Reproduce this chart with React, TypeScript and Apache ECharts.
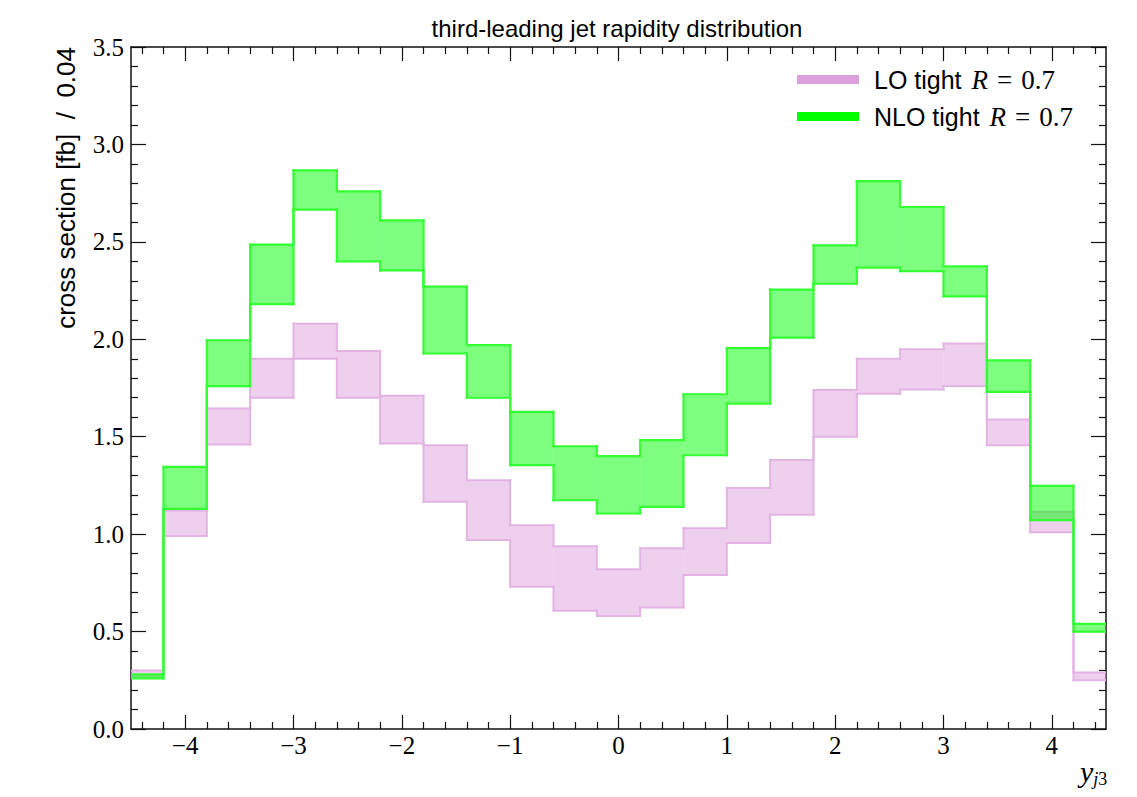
import React, { useEffect, useRef } from "react";
import * as echarts from "echarts";

const binEdges = [-4.6, -4.2, -3.8, -3.4, -3.0, -2.6, -2.2, -1.8, -1.4, -1.0, -0.6, -0.2, 0.2, 0.6, 1.0, 1.4, 1.8, 2.2, 2.6, 3.0, 3.4, 3.8, 4.2, 4.6];

const loLow = [0.27, 0.99, 1.46, 1.70, 1.90, 1.70, 1.465, 1.166, 0.97, 0.73, 0.607, 0.58, 0.624, 0.79, 0.955, 1.10, 1.50, 1.72, 1.742, 1.76, 1.456, 1.01, 0.25];
const loHigh = [0.30, 1.12, 1.645, 1.90, 2.08, 1.94, 1.71, 1.456, 1.277, 1.046, 0.938, 0.82, 0.927, 1.03, 1.237, 1.38, 1.74, 1.90, 1.949, 1.978, 1.588, 1.115, 0.29];
const nloLow = [0.26, 1.13, 1.76, 2.18, 2.665, 2.40, 2.354, 1.927, 1.70, 1.354, 1.174, 1.106, 1.14, 1.405, 1.67, 2.009, 2.285, 2.368, 2.35, 2.22, 1.73, 1.072, 0.50];
const nloHigh = [0.28, 1.345, 1.995, 2.486, 2.867, 2.759, 2.61, 2.27, 1.97, 1.627, 1.451, 1.40, 1.482, 1.718, 1.955, 2.255, 2.482, 2.812, 2.679, 2.374, 1.892, 1.248, 0.54];

const xMajorTicks = [-4, -3, -2, -1, 0, 1, 2, 3, 4];
const xMinorTicks = [-4.4, -4.2, -3.8, -3.6, -3.4, -3.2, -2.8, -2.6, -2.4, -2.2, -1.8, -1.6, -1.4, -1.2, -0.8, -0.6, -0.4, -0.2, 0.2, 0.4, 0.6, 0.8, 1.2, 1.4, 1.6, 1.8, 2.2, 2.4, 2.6, 2.8, 3.2, 3.4, 3.6, 3.8, 4.2, 4.4];

const SERIF = "'Liberation Serif', 'DejaVu Serif', serif";
const SANS = "'Liberation Sans', 'DejaVu Sans', sans-serif";

function makeRender(low: number[], high: number[], fill: string, stroke: string, lw: number) {
  return (params: any, api: any) => {
    const i = params.dataIndex;
    const last = low.length - 1;
    const xl = binEdges[i];
    const xr = binEdges[i + 1];
    const pTL = api.coord([xl, high[i]]);
    const pBR = api.coord([xr, low[i]]);
    const children: any[] = [];
    children.push({
      type: "rect",
      shape: { x: pTL[0], y: pTL[1], width: pBR[0] - pTL[0], height: pBR[1] - pTL[1] },
      style: { fill, stroke: null },
    });
    const line = (x1: number, y1: number, x2: number, y2: number) => ({
      type: "line",
      shape: { x1, y1, x2, y2 },
      style: { stroke, lineWidth: lw, lineCap: "square" },
    });
    children.push(line(pTL[0], pTL[1], pBR[0], pTL[1]));
    children.push(line(pTL[0], pBR[1], pBR[0], pBR[1]));
    if (i === 0) {
      children.push(line(pTL[0], pTL[1], pTL[0], pBR[1]));
    } else {
      const ph = api.coord([xl, high[i - 1]]);
      const pl = api.coord([xl, low[i - 1]]);
      children.push(line(pTL[0], ph[1], pTL[0], pTL[1]));
      children.push(line(pTL[0], pl[1], pTL[0], pBR[1]));
    }
    if (i === last) children.push(line(pBR[0], pTL[1], pBR[0], pBR[1]));
    return { type: "group", children };
  };
}

const AXIS_COLOR = "#111";

function xAxisDef(position: "top" | "bottom", major: boolean, labels: boolean) {
  return {
    type: "value",
    position,
    min: -4.5,
    max: 4.5,
    axisLine: { show: major, onZero: false, lineStyle: { color: AXIS_COLOR, width: 1.5 } },
    axisTick: {
      show: true,
      inside: true,
      length: major ? 14 : 7,
      customValues: major ? xMajorTicks : xMinorTicks,
      lineStyle: { color: AXIS_COLOR, width: 1.2 },
    },
    axisLabel: labels
      ? {
          show: true,
          customValues: xMajorTicks,
          margin: 4,
          fontFamily: SERIF,
          fontSize: 25,
          color: "#000",
          formatter: (v: number) => (v < 0 ? "\u2212" + Math.abs(v) : String(v)),
        }
      : { show: false },
    splitLine: { show: false },
  };
}

function yAxisDef(position: "left" | "right", labels: boolean) {
  return {
    type: "value",
    position,
    min: 0,
    max: 3.5,
    interval: 0.5,
    axisLine: { show: true, onZero: false, lineStyle: { color: AXIS_COLOR, width: 1.5 } },
    axisTick: { show: true, inside: true, length: 15, lineStyle: { color: AXIS_COLOR, width: 1.2 } },
    minorTick: { show: true, splitNumber: 5, length: 7, lineStyle: { color: AXIS_COLOR, width: 1.2 } },
    axisLabel: labels
      ? {
          show: true,
          margin: 7,
          fontFamily: SERIF,
          fontSize: 25,
          color: "#000",
          formatter: (v: number) => v.toFixed(1),
        }
      : { show: false },
    splitLine: { show: false },
    minorSplitLine: { show: false },
  };
}

export default function App() {
  const ref = useRef<HTMLDivElement>(null);
  useEffect(() => {
    if (!ref.current) return;
    const chart = echarts.init(ref.current, null, { renderer: "svg" });
    const mkData = (low: number[], high: number[]) =>
      low.map((l, i) => [binEdges[i], binEdges[i + 1], l, high[i]]);
    const option: any = {
      animation: false,
      backgroundColor: "#fff",
      grid: { left: 131, right: 31, top: 47, bottom: 68 },
      xAxis: [
        xAxisDef("bottom", true, true),
        xAxisDef("bottom", false, false),
        xAxisDef("top", true, false),
        xAxisDef("top", false, false),
      ],
      yAxis: [yAxisDef("left", true), yAxisDef("right", false)],
      legend: {
        orient: "vertical",
        left: 792,
        top: 60,
        itemWidth: 62,
        itemHeight: 9,
        itemGap: 8,
        icon: "rect",
        data: ["LO", "NLO"],
        textStyle: {
          fontFamily: SANS,
          fontSize: 25,
          color: "#000",
          lineHeight: 29,
          padding: [0, 0, 0, 10],
          rich: {
            m: { fontFamily: SERIF, fontStyle: "italic", fontSize: 27, color: "#000", padding: [0, 0, 0, 3] },
            s: { fontFamily: SERIF, fontSize: 27, color: "#000", padding: [0, 9, 0, 9] },
            n: { fontFamily: SERIF, fontSize: 27, color: "#000" },
          },
        },
        formatter: (name: string) => `${name} tight {m|R}{s|=}{n|0.7}`,
      },
      series: [
        {
          type: "custom",
          name: "LO",
          color: "#dda0dd",
          itemStyle: { color: "#dda0dd" },
          xAxisIndex: 0,
          yAxisIndex: 0,
          clip: true,
          encode: { x: [0, 1], y: [2, 3] },
          data: mkData(loLow, loHigh),
          renderItem: makeRender(loLow, loHigh, "rgba(221,160,221,0.5)", "#e3b4e3", 2),
        },
        {
          type: "custom",
          name: "NLO",
          color: "#00ff00",
          itemStyle: { color: "#00ff00" },
          xAxisIndex: 0,
          yAxisIndex: 0,
          clip: true,
          encode: { x: [0, 1], y: [2, 3] },
          data: mkData(nloLow, nloHigh),
          renderItem: makeRender(nloLow, nloHigh, "rgba(0,255,0,0.5)", "#33ff33", 2.2),
        },
      ],
      graphic: [
        {
          type: "text",
          x: 617,
          y: 28,
          style: {
            text: "third-leading jet rapidity distribution",
            fontFamily: SANS,
            fontSize: 24,
            fill: "#000",
            textAlign: "center",
            textVerticalAlign: "middle",
          },
        },
        {
          type: "text",
          x: 66,
          y: 47,
          rotation: Math.PI / 2,
          style: {
            text: "cross section [fb]  /  0.04",
            fontFamily: SANS,
            fontSize: 26,
            fill: "#000",
            textAlign: "right",
            textVerticalAlign: "middle",
          },
        },
        {
          type: "text",
          x: 1080,
          y: 772,
          style: {
            text: "{y|y}{j|j}{t|3}",
            textVerticalAlign: "middle",
            rich: {
              y: { fontFamily: SERIF, fontStyle: "italic", fontSize: 30, color: "#000", verticalAlign: "top" },
              j: { fontFamily: SERIF, fontStyle: "italic", fontSize: 18, color: "#000", padding: [14, 0, 0, 0] },
              t: { fontFamily: SERIF, fontSize: 18, color: "#000", padding: [14, 0, 0, 0] },
            },
          },
        },
      ],
    };
    chart.setOption(option);
    return () => chart.dispose();
  }, []);
  return (
    <div
      ref={ref}
      style={{ position: "fixed", left: 0, top: 0, width: 1137, height: 797, background: "#fff" }}
    />
  );
}
